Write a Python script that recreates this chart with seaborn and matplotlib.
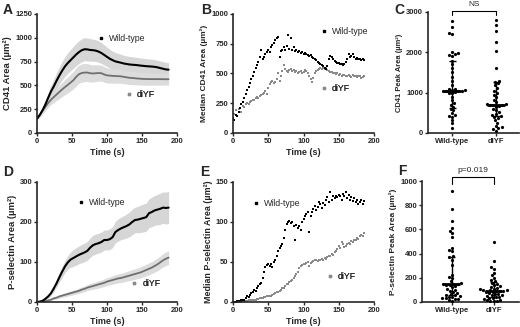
import numpy as np
import pandas as pd
import matplotlib
matplotlib.use("Agg")
import matplotlib.pyplot as plt
import seaborn as sns
from matplotlib.lines import Line2D

# ---- datos: curvas promedio (cada 4 s) ----
time_a = list(range(0, 189, 4))
cd41_wt_mean = [150, 190, 240, 300, 370, 437, 490, 550, 605, 655,
                700, 735, 765, 795, 825, 850, 870, 880, 878, 872,
                870, 865, 855, 840, 820, 800, 780, 765, 752, 745,
                738, 730, 725, 720, 717, 715, 712, 708, 705, 702,
                700, 698, 695, 690, 682, 675, 668, 665]
cd41_wt_sem = [15, 25, 35, 45, 55, 65, 75, 85, 92, 98,
               104, 108, 112, 116, 118, 120, 121, 121, 120, 118,
               116, 114, 112, 110, 106, 102, 98, 95, 92, 90,
               88, 86, 85, 84, 83, 82, 81, 80, 79, 78,
               78, 77, 76, 75, 75, 74, 74, 73]
cd41_dy_mean = [150, 190, 235, 275, 315, 350, 378, 405, 432, 458,
                483, 505, 530, 555, 590, 618, 630, 635, 635, 628,
                625, 628, 630, 628, 615, 605, 603, 600, 598, 597,
                595, 590, 585, 580, 578, 575, 572, 570, 568, 567,
                566, 566, 566, 566, 566, 565, 565, 565]
cd41_dy_sem = [15, 22, 30, 38, 45, 52, 58, 64, 70, 75,
               80, 84, 88, 92, 95, 96, 96, 95, 94, 92,
               90, 88, 86, 84, 82, 80, 78, 76, 75, 74,
               73, 72, 71, 70, 69, 68, 67, 66, 66, 65,
               65, 64, 64, 63, 63, 62, 62, 62]

psel_wt_mean = [0, 1, 3, 8, 14, 22, 34, 47, 62, 76,
                89, 99, 106, 110, 114, 118, 121, 124, 128, 136,
                142, 145, 147, 150, 155, 155, 157, 162, 175, 180,
                184, 187, 190, 194, 200, 205, 206, 208, 210, 212,
                222, 225, 229, 231, 233, 236, 235, 236]
psel_wt_sem = [0.5, 1, 2, 3, 4, 6, 8, 10, 12, 14,
               15, 17, 19, 21, 22, 22, 23, 23, 24, 24,
               25, 25, 25, 25, 25, 25, 26, 26, 27, 28,
               28, 29, 30, 31, 32, 32, 33, 34, 35, 35,
               36, 37, 37, 38, 39, 39, 40, 40]
psel_dy_mean = [0, 0, 1, 2, 4, 6, 9, 11, 14, 16,
                18, 20, 22, 24, 26, 28, 31, 33, 36, 38,
                40, 42, 44, 46, 48, 51, 53, 55, 57, 59,
                60, 62, 64, 66, 68, 70, 72, 74, 77, 80,
                83, 86, 90, 94, 99, 104, 108, 111]
psel_dy_sem = [0.3, 0.5, 1, 1.5, 2, 2.5, 3, 3.5, 4, 4.5,
               5, 5, 5.5, 6, 6, 6.5, 7, 7, 7.5, 8,
               8, 8.5, 9, 9, 9.5, 10, 10, 10.5, 11, 11,
               11.5, 12, 12, 12.5, 13, 13, 13.5, 14, 14, 14.5,
               15, 15, 15.5, 16, 16, 16.5, 17, 17]

# ---- datos: medianas (cada 2 s) ----
time_b = list(range(0, 187, 2))
med_cd41_wt = [130, 110, 150, 140, 175, 210, 240, 260, 290, 330,
               360, 390, 420, 455, 480, 510, 545, 570, 600, 640,
               700, 620, 640, 660, 680, 700, 680, 720, 740, 760,
               780, 800, 810, 640, 690, 700, 720, 700, 730, 820,
               710, 800, 700, 720, 690, 700, 680, 690, 670, 680,
               660, 670, 660, 655, 650, 655, 640, 630, 620, 610,
               600, 590, 580, 570, 560, 545, 535, 560, 620, 650,
               640, 620, 605, 600, 590, 585, 580, 580, 575, 580,
               600, 620, 660, 640, 650, 660, 640, 625, 630, 620,
               625, 615, 620, 610]
med_cd41_dy = [120, 160, 190, 140, 200, 210, 180, 230, 220, 240,
               250, 245, 260, 270, 275, 280, 290, 300, 290, 310,
               320, 330, 340, 350, 330, 380, 410, 430, 440, 420,
               430, 450, 500, 440, 480, 520, 570, 540, 520, 510,
               530, 540, 520, 530, 510, 520, 500, 510, 520, 500,
               510, 530, 520, 500, 480, 450, 430, 460, 500, 520,
               530, 540, 545, 540, 550, 540, 545, 530, 520, 510,
               515, 505, 500, 495, 500, 490, 495, 480, 490, 485,
               480, 475, 490, 480, 470, 485, 475, 480, 470, 480,
               475, 465, 470, 478]
med_psel_wt = [0, 0, 0, 1, 1, 1, 2, 2, 3, 5,
               7, 6, 9, 11, 13, 15, 14, 18, 20, 22,
               24, 30, 38, 44, 46, 48, 45, 47, 44, 50,
               52, 58, 64, 67, 70, 73, 80, 90, 98, 100,
               101, 99, 100, 95, 78, 96, 92, 95, 90, 100,
               104, 108, 110, 112, 87, 108, 112, 116, 120, 115,
               119, 125, 122, 118, 124, 121, 128, 131, 125, 138,
               128, 132, 130, 133, 131, 134, 132, 128, 135, 133,
               138, 130, 134, 128, 131, 126, 130, 125, 128, 122,
               125, 127, 123, 126]
med_psel_dy = [0, 0, 0, 0, 0, 0, 0, 1, 1, 1,
               1, 2, 2, 2, 3, 3, 3, 4, 4, 5,
               5, 5, 6, 6, 7, 7, 8, 8, 9, 10,
               11, 12, 13, 14, 15, 17, 18, 20, 22, 23,
               25, 26, 28, 30, 33, 35, 38, 42, 45, 46,
               48, 47, 49, 50, 45, 49, 50, 51, 53, 52,
               51, 53, 52, 54, 53, 55, 54, 56, 57, 58,
               60, 59, 62, 64, 66, 70, 68, 75, 72, 69,
               70, 72, 74, 73, 76, 75, 78, 77, 80, 79,
               82, 84, 83, 86]

# ---- datos: areas pico por celula ----
groups = ["Wild-type", "dIYF"]
peak_cd41_wt = [2775, 2620, 2490, 2450, 2010, 1980, 1950, 1940, 1900, 1790,
                1700, 1600, 1520, 1400, 1300, 1190, 1100, 1080, 1070, 1060,
                1050, 1050, 1040, 1030, 1020, 1000, 980, 900, 820, 735,
                700, 640, 600, 560, 490, 450, 420, 400, 320, 240, 115]
peak_cd41_dy = [2800, 2690, 2535, 2260, 2040, 1600, 1300, 1270, 1230, 1180,
                1107, 1050, 1000, 950, 885, 820, 760, 720, 710, 700,
                700, 690, 670, 650, 600, 570, 520, 480, 446, 420,
                405, 380, 320, 250, 175, 140, 120, 90, 60]
peak_psel_wt = [920, 771, 667, 612, 590, 570, 535, 446, 432, 419,
                380, 369, 350, 303, 226, 210, 198, 170, 155, 150,
                148, 145, 142, 140, 130, 120, 110, 102, 95, 85,
                74, 65, 55, 47, 40, 35, 28, 22, 17, 10, 60, 45, 30]
peak_psel_dy = [496, 342, 287, 275, 240, 220, 198, 185, 171, 160,
                149, 140, 130, 125, 116, 110, 105, 100, 98, 96,
                95, 92, 90, 85, 80, 74, 70, 65, 60, 55,
                50, 45, 39, 35, 30, 25, 19, 15, 11, 8, 5]
cd41_median = [1050, 700]
cd41_q1 = [620, 430]
cd41_q3 = [1790, 1270]
psel_median = [145, 95]
psel_q1 = [55, 45]
psel_q3 = [375, 165]

# ---- estilo ----
sns.set_style("ticks")
plt.rcParams["font.family"] = ["Liberation Sans", "DejaVu Sans"]

W, H = 520, 327
fig = plt.figure(figsize=(W / 100, H / 100), dpi=100)


def add_ax(l, t, r, b):
    return fig.add_axes([l / W, 1 - b / H, (r - l) / W, (b - t) / H])


def style(ax, ylabel, xlabel=None, ysize=6.8):
    sns.despine(ax=ax)
    for s in ["left", "bottom"]:
        ax.spines[s].set_linewidth(1.2)
    ax.tick_params(width=1.0, length=2.5, pad=1, labelsize=5.5)
    ax.set_ylabel(ylabel, fontsize=ysize, labelpad=2, weight="bold")
    if xlabel:
        ax.set_xlabel(xlabel, fontsize=6.5, labelpad=2, weight="bold")
    else:
        ax.set_xlabel("")
    for t in ax.get_xticklabels() + ax.get_yticklabels():
        t.set_fontweight("bold")


def key(ax, label, color, x, y):
    h = Line2D([], [], marker="s", color=color, ls="none", ms=1.6)
    leg = ax.legend(handles=[h], labels=[label], loc="center left",
                    bbox_to_anchor=(x, y), frameon=False, borderpad=0,
                    borderaxespad=0, handlelength=0.8, handletextpad=0.5,
                    prop={"size": 6.3, "weight": "normal"})
    ax.add_artist(leg)


def mean_panel(ax, wt_m, wt_s, dy_m, dy_s):
    t = np.array(time_a)
    wt_m, wt_s = np.array(wt_m), np.array(wt_s)
    dy_m, dy_s = np.array(dy_m), np.array(dy_s)
    ax.fill_between(t, wt_m - wt_s, wt_m + wt_s, color="#d6d6d6", lw=0)
    ax.fill_between(t, dy_m - dy_s, dy_m + dy_s, color="#dcdcdc", lw=0)
    sns.lineplot(x=t, y=dy_m, color="#707070", lw=1.3, ax=ax)
    sns.lineplot(x=t, y=wt_m, color="black", lw=1.5, ax=ax)


def median_panel(ax, wt, dy):
    sns.scatterplot(x=time_b, y=dy, color="#8a8a8a", s=3, marker="s",
                    linewidth=0, ax=ax)
    sns.scatterplot(x=time_b, y=wt, color="black", s=3, marker="s",
                    linewidth=0, ax=ax)


def peak_panel(ax, wt, dy, med, q1, q3):
    df = pd.DataFrame({"grupo": ["Wild-type"] * len(wt) + ["dIYF"] * len(dy),
                       "area": wt + dy})
    sns.swarmplot(data=df, x="grupo", y="area", order=groups, color="black",
                  size=2.3, ax=ax, warn_thresh=1)
    for i in range(2):
        ax.vlines(i, q1[i], q3[i], color="black", lw=1.0)
        ax.hlines([q1[i], q3[i]], i - 0.08, i + 0.08, color="black", lw=1.0)
        ax.hlines(med[i], i - 0.2, i + 0.2, color="black", lw=2.0)
    ax.tick_params(axis="x", length=0, labelsize=6, pad=2)


# A
axA = add_ax(37, 14, 177, 133)
mean_panel(axA, cd41_wt_mean, cd41_wt_sem, cd41_dy_mean, cd41_dy_sem)
axA.set_xlim(0, 200)
axA.set_ylim(0, 1250)
axA.set_xticks([0, 50, 100, 150, 200])
axA.set_yticks([0, 250, 500, 750, 1000, 1250])
style(axA, "CD41 Area (µm²)", "Time (s)")
key(axA, "Wild-type", "black", 0.43, 0.79)
key(axA, "diYF", "#8a8a8a", 0.63, 0.32)

# B
axB = add_ax(233, 14, 374, 133)
median_panel(axB, med_cd41_wt, med_cd41_dy)
axB.set_xlim(0, 200)
axB.set_ylim(0, 1000)
axB.set_xticks([0, 50, 100, 150, 200])
axB.set_yticks([0, 250, 500, 750, 1000])
style(axB, "Median CD41 Area (µm²)", "Time (s)", ysize=6.0)
key(axB, "Wild-type", "black", 0.62, 0.85)
key(axB, "diYF", "#8a8a8a", 0.62, 0.37)

# C
axC = add_ax(428, 12, 519, 133)
peak_panel(axC, peak_cd41_wt, peak_cd41_dy, cd41_median, cd41_q1, cd41_q3)
axC.set_xlim(-0.55, 1.52)
axC.set_ylim(0, 3000)
axC.set_yticks([0, 1000, 2000, 3000])
style(axC, "CD41 Peak Area (µm²)", ysize=5.4)
axC.plot([0, 0, 1, 1], [2930, 3030, 3030, 2930], color="black", lw=0.8,
         clip_on=False)
axC.text(0.5, 3090, "NS", ha="center", va="bottom", fontsize=6)

# D
axD = add_ax(37, 182, 177, 302)
mean_panel(axD, psel_wt_mean, psel_wt_sem, psel_dy_mean, psel_dy_sem)
axD.set_xlim(0, 200)
axD.set_ylim(0, 300)
axD.set_xticks([0, 50, 100, 150, 200])
axD.set_yticks([0, 100, 200, 300])
style(axD, "P-selectin Area (µm²)", "Time (s)")
key(axD, "Wild-type", "black", 0.29, 0.83)
key(axD, "diYF", "#8a8a8a", 0.67, 0.15)

# E
axE = add_ax(233, 182, 374, 302)
median_panel(axE, med_psel_wt, med_psel_dy)
axE.set_xlim(0, 200)
axE.set_ylim(0, 150)
axE.set_xticks([0, 50, 100, 150, 200])
axE.set_yticks([0, 50, 100, 150])
style(axE, "Median P-selectin Area (µm²)", "Time (s)", ysize=6.4)
key(axE, "Wild-type", "black", 0.14, 0.82)
key(axE, "diYF", "#8a8a8a", 0.66, 0.21)

# F
axF = add_ax(422, 181, 519, 302)
peak_panel(axF, peak_psel_wt, peak_psel_dy, psel_median, psel_q1, psel_q3)
axF.set_xlim(-0.71, 1.6)
axF.set_ylim(0, 1000)
axF.set_yticks([0, 200, 400, 600, 800, 1000])
style(axF, "P-selectin Peak Area (µm²)", ysize=6.0)
axF.plot([0, 0, 1, 1], [975, 1033, 1033, 975], color="black", lw=0.8,
         clip_on=False)
axF.text(0.5, 1055, "p=0.019", ha="center", va="bottom", fontsize=6)

# letras de panel
for lab, x, y in [("A", 3, 3), ("B", 201, 3), ("C", 394, 3),
                  ("D", 3, 165), ("E", 200, 165), ("F", 398, 164)]:
    fig.text(x / W, 1 - y / H, lab, fontsize=10, weight="bold",
             ha="left", va="top")

fig.savefig("out.png", dpi=100)
